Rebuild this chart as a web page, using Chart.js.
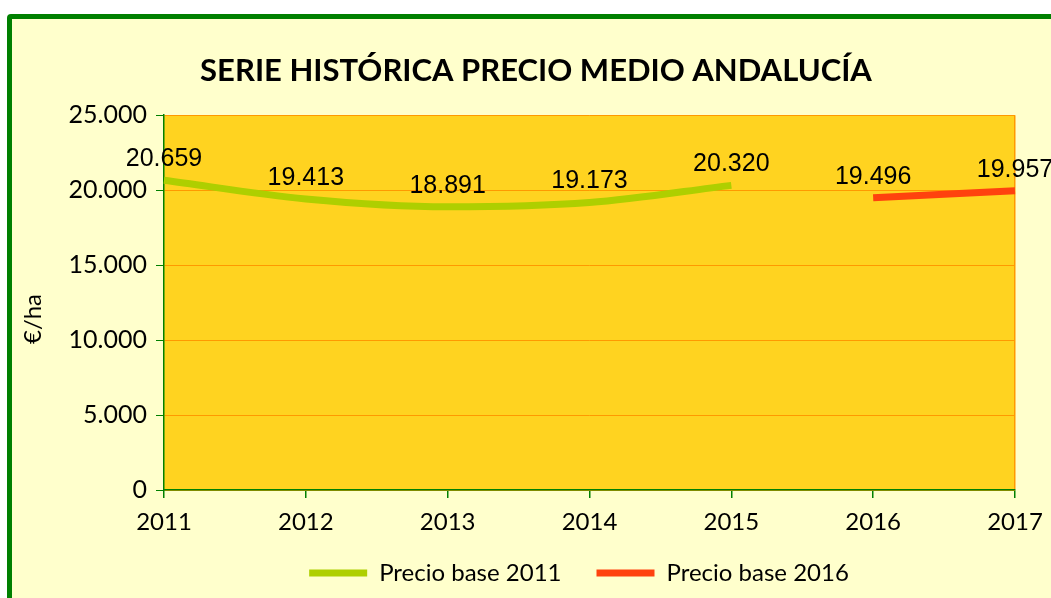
<!DOCTYPE html>
<html>
<head>
<meta charset="utf-8">
<script src="https://cdn.jsdelivr.net/npm/chart.js@4/dist/chart.umd.min.js"></script>
<style>
  html, body { margin:0; padding:0; width:1051px; height:598px; overflow:hidden; background:#ffffff; }
  #frame { position:absolute; left:7px; top:14px; width:1200px; height:700px; border:5px solid #008000; border-radius:4px; background:#FFFFCC; box-sizing:border-box; }
  #c { position:absolute; left:0; top:0; }
</style>
</head>
<body>
<div id="frame"></div>
<canvas id="c" width="1051" height="598"></canvas>
<script>
const categories = ['2011','2012','2013','2014','2015','2016','2017'];
const base2011 = [20659, 19413, 18891, 19173, 20320, null, null];
const base2016 = [null, null, null, null, null, 19496, 19957];
const seriesNames = ['Precio base 2011', 'Precio base 2016'];
const yTicks = [0, 5000, 10000, 15000, 20000, 25000];
const titleText = 'SERIE HISTÓRICA PRECIO MEDIO ANDALUCÍA';
const yTitle = '€/ha';

const fmt = v => v.toLocaleString('de-DE');

const dataLabels = {
  id: 'dataLabels',
  afterDatasetsDraw(chart) {
    const ctx = chart.ctx;
    ctx.save();
    ctx.font = '25px "Liberation Sans", Arial, sans-serif';
    ctx.fillStyle = '#000';
    ctx.textAlign = 'center';
    ctx.textBaseline = 'middle';
    chart.data.datasets.forEach((ds, di) => {
      const meta = chart.getDatasetMeta(di);
      meta.data.forEach((pt, i) => {
        const v = ds.data[i];
        if (v == null) return;
        ctx.fillText(fmt(v), pt.x, pt.y - 21);
      });
    });
    ctx.restore();
  }
};

const extras = {
  id: 'extras',
  beforeDraw(chart) {
    const a = chart.chartArea, ctx = chart.ctx;
    ctx.save();
    ctx.fillStyle = '#FFD320';
    ctx.fillRect(a.left, a.top, a.right - a.left, a.bottom - a.top);
    ctx.restore();
  },
  afterDraw(chart) {
    const ctx = chart.ctx;
    ctx.save();
    ctx.font = '24px Lato, sans-serif';
    ctx.fillStyle = '#000';
    ctx.textAlign = 'center';
    ctx.textBaseline = 'middle';
    ctx.translate(33, 319);
    ctx.rotate(-Math.PI / 2);
    ctx.fillText(yTitle, 0, 0);
    ctx.restore();
  },
  afterLayout(chart) {
    const lg = chart.legend;
    if (lg) { lg.left += 43; lg.right += 43; }
    const xs = chart.scales.x;
    if (xs) { xs.bottom += 20; }
  }
};

new Chart(document.getElementById('c'), {
  type: 'line',
  data: {
    labels: categories,
    datasets: [
      { label: seriesNames[0], data: base2011, borderColor: '#AECF00', backgroundColor: '#AECF00',
        borderWidth: 7, pointRadius: 0, tension: 0.35, cubicInterpolationMode: 'monotone', spanGaps: false, borderCapStyle: 'butt' },
      { label: seriesNames[1], data: base2016, borderColor: '#FF420E', backgroundColor: '#FF420E',
        borderWidth: 7, pointRadius: 0, tension: 0, spanGaps: false, borderCapStyle: 'butt' }
    ]
  },
  options: {
    responsive: false,
    animation: false,
    devicePixelRatio: 1,
    layout: { padding: { left: 57, right: 36, top: 0, bottom: 3 } },
    plugins: {
      title: { display: true, text: titleText, color: '#000',
        font: { family: 'Lato', size: 31, weight: 'bold' }, padding: { top: 52, bottom: 26 } },
      legend: { position: 'bottom', align: 'center',
        labels: { color: '#000', font: { family: 'Lato', size: 24 }, boxWidth: 58, boxHeight: 7, padding: 35,
          generateLabels(chart) {
            const items = Chart.defaults.plugins.legend.labels.generateLabels(chart);
            items.forEach(it => { it.lineWidth = 0; it.strokeStyle = 'rgba(0,0,0,0)'; });
            return items;
          } } },
      tooltip: { enabled: false }
    },
    scales: {
      x: {
        type: 'category', offset: false,
        grid: { drawOnChartArea: true, color: ctx => ctx.index === categories.length - 1 ? '#FF9900' : 'rgba(0,0,0,0)', tickColor: '#008000', tickLength: 8, lineWidth: 1.5 },
        border: { color: '#008000', width: 1.5 },
        ticks: { color: '#000', font: { family: 'Lato', size: 24 }, padding: 10, maxRotation: 0, autoSkip: false },
        afterFit(s) { s.height = 36; s.paddingRight = 0; s.paddingLeft = 0; }
      },
      y: {
        min: 0, max: 25000,
        afterBuildTicks(s) { s.ticks = yTicks.map(v => ({ value: v })); },
        grid: { color: '#FF9900', tickColor: '#008000', tickLength: 8, lineWidth: 1 },
        border: { color: '#008000', width: 1.5 },
        ticks: { color: '#000', font: { family: 'Lato', size: 25 }, padding: 9, callback: v => fmt(v) },
        afterFit(s) { s.width = 107; }
      }
    }
  },
  plugins: [dataLabels, extras]
});
</script>
</body>
</html>
